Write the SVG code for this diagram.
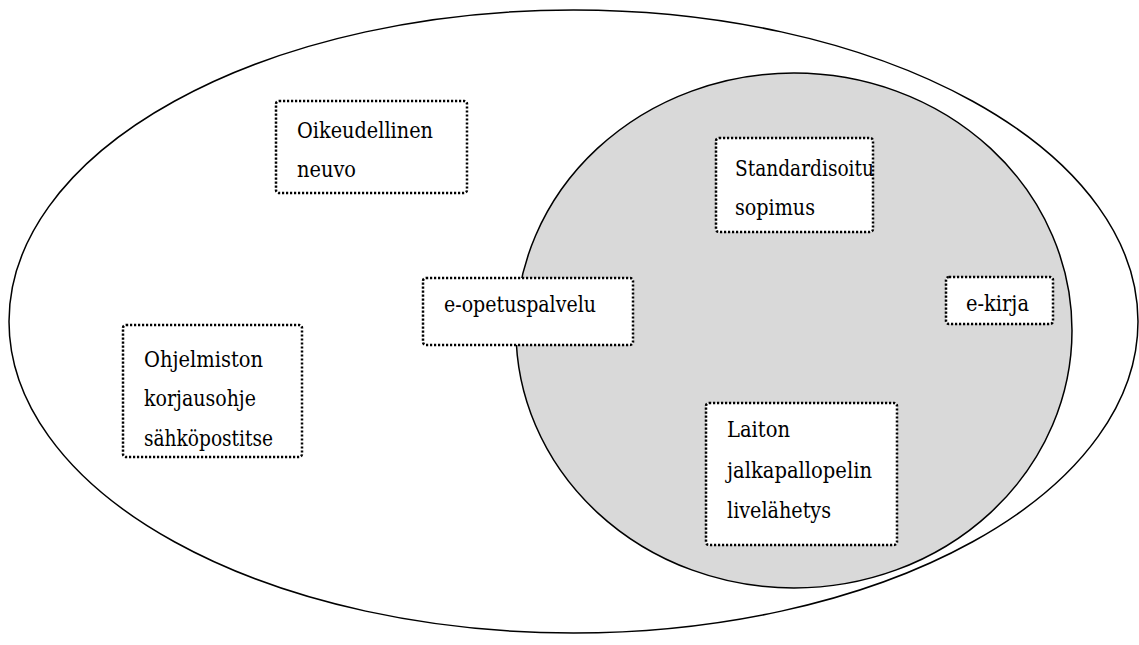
<svg xmlns="http://www.w3.org/2000/svg" width="1139" height="645" viewBox="0 0 1139 645">
<style>
.box{fill:#fff;stroke:#000;stroke-width:2.5;stroke-dasharray:2.2 1.8}
.ell{stroke:#000;stroke-width:1.5}
text{font-family:"DejaVu Serif",serif;font-size:22px;fill:#000}
</style>
<rect width="1139" height="645" fill="#fff"/>
<g id="shapes">
<ellipse class="ell" cx="573.5" cy="321.5" rx="564.5" ry="311.5" fill="#fff"/>
<ellipse class="ell" cx="794" cy="330.5" rx="278" ry="257.5" fill="#d9d9d9"/>
</g>
<g id="n-oikeudellinen">
<rect class="box" x="276" y="101" width="191" height="92" rx="3"/>
<text x="297" y="138" textLength="136" lengthAdjust="spacingAndGlyphs">Oikeudellinen</text>
<text x="297" y="177" textLength="59" lengthAdjust="spacingAndGlyphs">neuvo</text>
</g>
<g id="n-standardisoitu">
<rect class="box" x="716" y="138" width="157" height="94" rx="3"/>
<text x="735" y="176" textLength="139" lengthAdjust="spacingAndGlyphs">Standardisoitu</text>
<text x="735" y="215" textLength="80" lengthAdjust="spacingAndGlyphs">sopimus</text>
</g>
<g id="n-eopetus">
<rect class="box" x="423" y="278" width="210" height="67" rx="3"/>
<text x="444" y="312" textLength="152" lengthAdjust="spacingAndGlyphs">e-opetuspalvelu</text>
</g>
<g id="n-ekirja">
<rect class="box" x="946" y="277" width="107" height="47" rx="3"/>
<text x="966" y="311" textLength="63" lengthAdjust="spacingAndGlyphs">e-kirja</text>
</g>
<g id="n-ohjelmiston">
<rect class="box" x="123" y="325" width="179" height="132" rx="3"/>
<text x="144" y="367" textLength="119" lengthAdjust="spacingAndGlyphs">Ohjelmiston</text>
<text x="144" y="406" textLength="112" lengthAdjust="spacingAndGlyphs">korjausohje</text>
<text x="144" y="446" textLength="129" lengthAdjust="spacingAndGlyphs">sähköpostitse</text>
</g>
<g id="n-laiton">
<rect class="box" x="706" y="403" width="191" height="142" rx="3"/>
<text x="727" y="437" textLength="63" lengthAdjust="spacingAndGlyphs">Laiton</text>
<text x="727" y="478" textLength="145" lengthAdjust="spacingAndGlyphs">jalkapallopelin</text>
<text x="727" y="518" textLength="104" lengthAdjust="spacingAndGlyphs">livelähetys</text>
</g>
<g id="connectors"></g>
</svg>
